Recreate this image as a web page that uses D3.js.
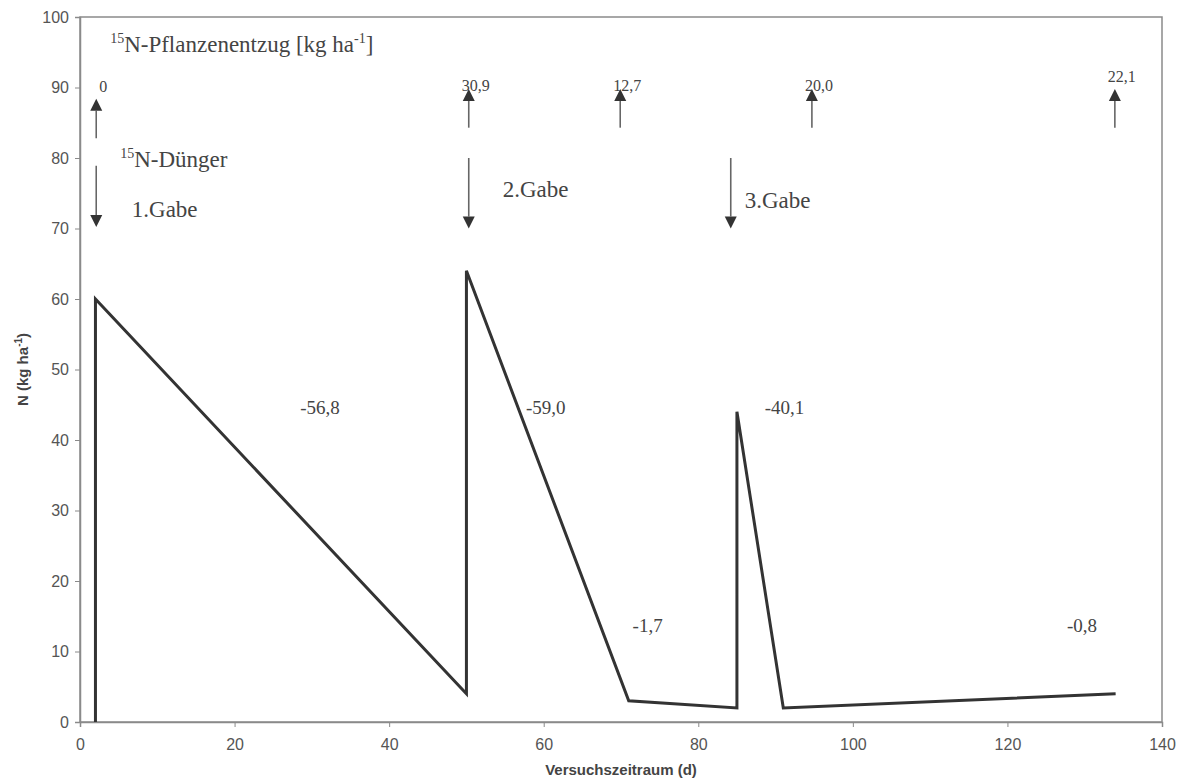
<!DOCTYPE html>
<html>
<head>
<meta charset="utf-8">
<script src="https://cdn.jsdelivr.net/npm/d3@7"></script>
<style>
  html, body { margin: 0; padding: 0; background: #fff; }
  svg { display: block; }
</style>
</head>
<body>
<div id="chart"></div>
<script>
// N course in soil (kg ha-1) over the trial period (d)
const days = [2, 2, 50, 50, 71, 85, 85, 91, 134]
const nValues = [0, 60, 4, 64, 3, 2, 44, 2, 4]

const xTicks = [0, 20, 40, 60, 80, 100, 120, 140]
const yTicks = [0, 10, 20, 30, 40, 50, 60, 70, 80, 90, 100]

// 15N plant uptake arrows (upwards) and their labels
const uptakeDays = [2.1, 50.3, 69.9, 94.7, 133.9]
const uptakeTop = [88.4, 89.8, 89.8, 89.8, 89.8]
const uptakeBottom = [82.8, 84.3, 84.3, 84.3, 84.3]
const uptakeLabels = ['0', '30,9', '12,7', '20,0', '22,1']
const uptakeLabelLevels = [89.4, 89.5, 89.5, 89.5, 90.8]

// 15N fertilizer doses (downward arrows)
const doseDays = [2.1, 50.3, 84.2]
const doseTop = [78.9, 80, 80]
const doseBottom = [70.2, 70, 70]
const doseLabels = ['1.Gabe', '2.Gabe', '3.Gabe']
const doseLabelDays = [6.7, 54.7, 86.0]
const doseLabelLevels = [71.6, 74.5, 72.9]

// change labels along the line
const slopeLabels = ['-56,8', '-59,0', '-40,1', '-1,7', '-0,8']
const slopeDays = [28.5, 57.7, 88.6, 71.5, 127.7]
const slopeLevels = [43.7, 43.7, 43.7, 12.8, 12.8]

const width = 1181
const height = 784
const margin = { left: 80, right: 19, top: 17, bottom: 62 }

const serif = '"Liberation Serif", "Times New Roman", serif'
const sans = '"Liberation Sans", Arial, sans-serif'
const textColor = '#444'

const svg = d3.select('#chart')
  .append('svg')
  .attr('width', width)
  .attr('height', height)

const x = d3.scaleLinear()
  .domain([0, 140])
  .range([margin.left, width - margin.right])

const y = d3.scaleLinear()
  .domain([0, 100])
  .range([height - margin.bottom, margin.top])

// Plot frame
svg.append('rect')
  .attr('x', x(0))
  .attr('y', y(100))
  .attr('width', x(140) - x(0))
  .attr('height', y(0) - y(100))
  .attr('fill', 'none')
  .attr('stroke', '#8a8a8a')
  .attr('stroke-width', 1.5)

// Axes
const xAxis = svg.append('g')
  .attr('transform', `translate(0,${y(0)})`)
  .call(d3.axisBottom(x).tickValues(xTicks).tickSize(5).tickPadding(12))
const yAxis = svg.append('g')
  .attr('transform', `translate(${x(0)},0)`)
  .call(d3.axisLeft(y).tickValues(yTicks).tickSize(5).tickPadding(6))

;[xAxis, yAxis].forEach(ax => {
  ax.select('.domain').attr('stroke', '#8a8a8a').attr('stroke-width', 1.5)
  ax.selectAll('.tick line').attr('stroke', '#8a8a8a').attr('stroke-width', 1)
  ax.selectAll('.tick text')
    .style('font-family', sans)
    .style('font-size', '16px')
    .attr('fill', '#555')
})

// Axis titles
svg.append('text')
  .attr('x', (x(0) + x(140)) / 2)
  .attr('y', 775)
  .attr('text-anchor', 'middle')
  .style('font-family', sans)
  .style('font-size', '15px')
  .style('font-weight', 'bold')
  .attr('fill', textColor)
  .text('Versuchszeitraum (d)')

const yTitle = svg.append('text')
  .attr('transform', `translate(28,${(y(0) + y(100)) / 2}) rotate(-90)`)
  .attr('text-anchor', 'middle')
  .style('font-family', sans)
  .style('font-size', '15px')
  .style('font-weight', 'bold')
  .attr('fill', textColor)
yTitle.append('tspan').text('N (kg ha')
yTitle.append('tspan').attr('dy', -6).style('font-size', '10px').text('-1')
yTitle.append('tspan').attr('dy', 6).text(')')

// Main line
const points = days.map((d, i) => [d, nValues[i]])
svg.append('path')
  .datum(points)
  .attr('fill', 'none')
  .attr('stroke', '#333')
  .attr('stroke-width', 3)
  .attr('stroke-linejoin', 'miter')
  .attr('d', d3.line().x(d => x(d[0])).y(d => y(d[1])))

// Arrow helper: shaft plus filled triangle head
function arrow(xPos, fromY, toY) {
  const head = 12
  const dir = toY < fromY ? 1 : -1
  svg.append('line')
    .attr('x1', xPos)
    .attr('x2', xPos)
    .attr('y1', fromY)
    .attr('y2', toY + dir * head)
    .attr('stroke', '#666')
    .attr('stroke-width', 1.6)
  svg.append('polygon')
    .attr('points', [
      [xPos - 6, toY + dir * head],
      [xPos + 6, toY + dir * head],
      [xPos, toY]
    ])
    .attr('fill', '#333')
}

uptakeDays.forEach((d, i) => {
  arrow(x(d), y(uptakeBottom[i]), y(uptakeTop[i]))
  svg.append('text')
    .attr('x', x(d) + 7)
    .attr('y', y(uptakeLabelLevels[i]))
    .attr('text-anchor', 'middle')
    .style('font-family', serif)
    .style('font-size', '16px')
    .attr('fill', textColor)
    .text(uptakeLabels[i])
})

doseDays.forEach((d, i) => {
  arrow(x(d), y(doseTop[i]), y(doseBottom[i]))
  svg.append('text')
    .attr('x', x(doseLabelDays[i]))
    .attr('y', y(doseLabelLevels[i]))
    .style('font-family', serif)
    .style('font-size', '23px')
    .attr('fill', textColor)
    .text(doseLabels[i])
})

slopeLabels.forEach((s, i) => {
  svg.append('text')
    .attr('x', x(slopeDays[i]))
    .attr('y', y(slopeLevels[i]))
    .style('font-family', serif)
    .style('font-size', '19px')
    .attr('fill', textColor)
    .text(s)
})

// Annotation titles with superscripts
function supText(xPos, yPos, parts) {
  const t = svg.append('text')
    .attr('x', xPos)
    .attr('y', yPos)
    .style('font-family', serif)
    .style('font-size', '23px')
    .attr('fill', textColor)
  let shift = 0
  parts.forEach(p => {
    const target = p.sup ? -9 : 0
    t.append('tspan')
      .attr('dy', target - shift)
      .style('font-size', p.sup ? '14px' : '23px')
      .text(p.text)
    shift = target
  })
}

supText(x(3.9), y(95.0), [
  { text: '15', sup: true },
  { text: 'N-Pflanzenentzug [kg ha' },
  { text: '-1', sup: true },
  { text: ']' }
])

supText(x(5.2), y(78.7), [
  { text: '15', sup: true },
  { text: 'N-Dünger' }
])
</script>
</body>
</html>
